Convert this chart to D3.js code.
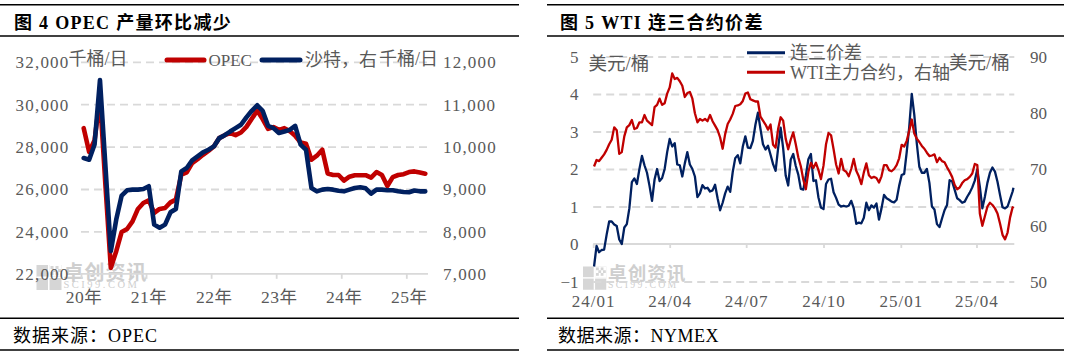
<!DOCTYPE html>
<html><head><meta charset="utf-8">
<script src="https://cdn.jsdelivr.net/npm/d3@7"></script>
<style>body{margin:0;background:#fff}svg{display:block}</style>
</head><body>
<svg id="c" width="1075" height="355"></svg>
<script>
// ---------- Figure 4 data (monthly, thousand b/d) ----------
const months = ["2020-01","2020-02","2020-03","2020-04","2020-05","2020-06","2020-07","2020-08","2020-09","2020-10","2020-11","2020-12",
"2021-01","2021-02","2021-03","2021-04","2021-05","2021-06","2021-07","2021-08","2021-09","2021-10","2021-11","2021-12",
"2022-01","2022-02","2022-03","2022-04","2022-05","2022-06","2022-07","2022-08","2022-09","2022-10","2022-11","2022-12",
"2023-01","2023-02","2023-03","2023-04","2023-05","2023-06","2023-07","2023-08","2023-09","2023-10","2023-11","2023-12",
"2024-01","2024-02","2024-03","2024-04","2024-05","2024-06","2024-07","2024-08","2024-09","2024-10","2024-11","2024-12",
"2025-01","2025-02","2025-03","2025-04"];
const opec = [28870,27750,28300,30300,26200,22280,23065,23975,24115,24475,25060,25340,
25465,24870,25060,25105,25370,25500,26675,26785,27220,27410,27615,27800,
28005,28400,28540,28635,28540,28665,28930,29310,29700,29295,28840,28920,
28790,28870,28730,28510,28195,28130,27380,27570,27850,26730,26660,26660,
26400,26580,26650,26650,26650,26540,26800,26660,26140,26560,26660,26700,
26800,26830,26780,26720];
const saudi = [9730,9690,10050,11570,9550,7535,8280,8845,8970,8985,8985,9000,
9065,8160,8085,8160,8450,8530,9415,9495,9675,9770,9865,9925,
10005,10200,10270,10355,10435,10515,10690,10845,10975,10845,10490,10435,
10320,10355,10395,10490,10045,9925,9025,8945,8985,9000,8985,8960,
8945,8985,9025,9040,9015,8890,8985,8985,8970,8970,8945,8930,
8925,8965,8945,8945];
const yearTickMonths = ["2020-01","2021-01","2022-01","2023-01","2024-01","2025-01"];
const yearLabels = ["20年","21年","22年","23年","24年","25年"];
const opecTicks = [22000,24000,26000,28000,30000,32000];
const saudiTicks = [7000,8000,9000,10000,11000,12000];

// ---------- Figure 5 data ----------
const wtiDates = ["2024-01-02","2024-01-05","2024-01-08","2024-01-11","2024-01-14","2024-01-17","2024-01-20","2024-01-23","2024-01-26","2024-01-29",
"2024-02-01","2024-02-04","2024-02-07","2024-02-10","2024-02-13","2024-02-16","2024-02-19","2024-02-22","2024-02-25","2024-02-28",
"2024-03-02","2024-03-05","2024-03-08","2024-03-11","2024-03-14","2024-03-17","2024-03-20","2024-03-23","2024-03-26","2024-03-29",
"2024-04-01","2024-04-04","2024-04-07","2024-04-10","2024-04-13","2024-04-16","2024-04-19","2024-04-22","2024-04-25","2024-04-28",
"2024-05-01","2024-05-04","2024-05-07","2024-05-10","2024-05-13","2024-05-16","2024-05-19","2024-05-22","2024-05-25","2024-05-28","2024-05-31",
"2024-06-03","2024-06-06","2024-06-09","2024-06-12","2024-06-15","2024-06-18","2024-06-21","2024-06-24","2024-06-27","2024-06-30",
"2024-07-03","2024-07-06","2024-07-09","2024-07-12","2024-07-15","2024-07-18","2024-07-21","2024-07-24","2024-07-27","2024-07-30",
"2024-08-02","2024-08-05","2024-08-08","2024-08-11","2024-08-14","2024-08-17","2024-08-20","2024-08-23","2024-08-26","2024-08-29",
"2024-09-01","2024-09-04","2024-09-07","2024-09-10","2024-09-13","2024-09-16","2024-09-19","2024-09-22","2024-09-25","2024-09-28",
"2024-10-01","2024-10-04","2024-10-07","2024-10-10","2024-10-13","2024-10-16","2024-10-19","2024-10-22","2024-10-25","2024-10-28","2024-10-31",
"2024-11-03","2024-11-06","2024-11-09","2024-11-12","2024-11-15","2024-11-18","2024-11-21","2024-11-24","2024-11-27","2024-11-30",
"2024-12-03","2024-12-06","2024-12-09","2024-12-12","2024-12-15","2024-12-18","2024-12-21","2024-12-24","2024-12-27","2024-12-30",
"2025-01-02","2025-01-05","2025-01-08","2025-01-11","2025-01-14","2025-01-17","2025-01-20","2025-01-23","2025-01-26","2025-01-29",
"2025-02-01","2025-02-04","2025-02-07","2025-02-10","2025-02-13","2025-02-16","2025-02-19","2025-02-22","2025-02-25","2025-02-28",
"2025-03-03","2025-03-06","2025-03-09","2025-03-12","2025-03-15","2025-03-18","2025-03-21","2025-03-24","2025-03-27","2025-03-30",
"2025-04-02","2025-04-05","2025-04-08","2025-04-11","2025-04-14","2025-04-17","2025-04-20","2025-04-23","2025-04-26","2025-04-29",
"2025-05-02","2025-05-05","2025-05-08","2025-05-11","2025-05-14","2025-05-15"];
const spread = [-0.60,-0.05,-0.22,-0.16,-0.15,0.25,0.60,0.60,0.52,0.48,
0.12,0.00,0.44,0.53,0.95,1.65,1.75,1.60,2.00,2.35,
2.10,1.90,1.55,1.15,1.72,2.00,1.68,1.76,2.00,2.45,
2.80,2.60,2.69,2.12,2.10,1.80,2.15,2.45,2.12,2.00,
1.80,1.25,1.35,1.57,1.48,1.50,1.40,1.43,1.58,1.22,0.90,
1.10,1.35,1.53,1.39,1.92,2.29,2.37,2.15,2.60,2.87,
2.57,2.56,2.75,3.18,3.50,3.07,2.66,2.52,2.62,2.38,
2.13,1.95,2.55,3.10,2.55,1.83,1.56,2.25,2.40,2.08,
1.85,1.47,1.45,1.82,2.26,2.40,1.68,1.70,1.24,0.97,
0.93,1.60,1.72,1.74,1.38,1.23,1.05,1.00,1.02,1.00,1.02,
1.15,0.95,0.54,0.57,0.55,0.70,1.10,0.90,1.03,0.97,
1.08,0.65,0.95,1.31,1.22,1.18,1.13,1.11,1.18,1.55,
1.84,1.87,2.45,3.12,4.00,3.45,2.68,2.06,1.90,1.90,
2.00,1.63,1.00,0.92,0.53,0.45,0.68,0.90,1.04,1.70,
1.67,1.45,1.22,1.17,1.10,1.13,1.26,1.37,1.51,1.69,
1.99,1.53,0.95,1.26,1.63,1.90,2.04,1.93,1.66,1.31,
0.98,0.95,1.00,1.20,1.40,1.50];
const wti = [70.45,71.6,71.4,72.0,72.6,73.4,74.4,75.2,77.4,76.9,
72.7,73.0,75.8,77.4,77.8,78.7,77.1,77.3,78.3,78.3,
79.6,78.6,78.2,77.8,81.0,81.4,82.5,81.4,81.7,83.4,
84.5,87.0,86.0,86.2,85.6,84.8,82.8,83.5,83.7,82.5,
79.9,78.3,78.9,78.6,78.9,78.5,79.6,78.5,77.7,76.9,75.6,
73.6,76.2,78.0,78.8,79.8,81.2,81.3,81.5,82.1,83.4,
83.6,82.4,82.2,82.0,82.0,79.3,78.6,77.9,77.0,77.9,
74.3,73.8,77.1,79.2,78.6,75.4,73.5,75.2,76.5,74.4,
72.1,70.5,68.1,66.4,69.5,71.1,70.2,71.1,69.8,68.2,
70.6,74.4,76.4,76.0,73.5,70.8,69.2,71.8,69.8,69.5,68.7,
70.0,71.8,69.7,68.7,67.3,69.4,71.0,68.9,68.4,68.6,
68.4,67.6,68.7,70.7,70.7,69.8,69.6,70.0,70.7,71.9,
74.3,74.0,75.0,76.8,78.8,76.3,75.4,74.8,74.1,73.6,
72.9,72.3,72.4,72.6,71.2,72.0,71.4,71.2,70.3,69.5,
68.6,67.2,66.4,66.7,67.5,68.0,68.2,68.6,69.2,70.9,
70.7,62.1,59.9,61.6,63.3,64.0,63.6,63.0,62.1,60.3,
58.3,57.5,58.7,61.4,63.2,63.0];
const monthTicks = ["2024-01-01","2024-04-01","2024-07-01","2024-10-01","2025-01-01","2025-04-01"];
const monthLabels = ["24/01","24/04","24/07","24/10","25/01","25/04"];
const spreadTicks = [-1,0,1,2,3,4,5];
const wtiTicks = [50,60,70,80,90];

// ---------- drawing ----------
const svg = d3.select("#c");
const FONT = "'Liberation Serif','Noto Sans CJK SC',serif";
const GRID = "#d9d9d9", TXT = "#595959", RED = "#c00000", BLUE = "#002060";
const parse = d3.timeParse("%Y-%m-%d");

function rule(x1, x2, y) {
  svg.append("line").attr("x1", x1).attr("x2", x2).attr("y1", y).attr("y2", y)
    .attr("stroke", "#000").attr("stroke-width", 1.6);
}
function text(x, y, s, size, opts = {}) {
  return svg.append("text").attr("x", x).attr("y", y).attr("dy", "0.35em")
    .attr("font-family", FONT).attr("font-size", size)
    .attr("fill", opts.fill || TXT).attr("font-weight", opts.bold ? "bold" : "normal")
    .attr("letter-spacing", opts.ls || 0).attr("text-anchor", opts.anchor || "start").text(s);
}
function styleAxis(g, size, ls) {
  g.select(".domain").remove();
  g.selectAll("text").attr("font-family", FONT).attr("font-size", size)
    .attr("fill", TXT).attr("letter-spacing", ls || 0);
}
function watermark(x, y, s) {
  const w = svg.append("g").attr("transform", `translate(${x},${y}) scale(${s})`);
  const c = "#d6d6d6";
  w.append("rect").attr("x", 0).attr("y", 0).attr("width", 25).attr("height", 25).attr("fill", c);
  w.append("rect").attr("x", 11.5).attr("y", 0).attr("width", 1.5).attr("height", 25).attr("fill", "#fff");
  w.append("rect").attr("x", 0).attr("y", 11.5).attr("width", 25).attr("height", 1.5).attr("fill", "#fff");
  w.append("rect").attr("x", 13).attr("y", 0).attr("width", 12).attr("height", 11.5).attr("fill", "#fff");
  [[14,1],[19,1],[16.5,4],[21.5,4],[14,7],[19,7]].forEach(p =>
    w.append("rect").attr("x", p[0]).attr("y", p[1]).attr("width", 3).attr("height", 3).attr("fill", c));
  w.append("text").attr("x", 27).attr("y", 8).attr("dy", "0.35em").attr("font-family", FONT)
    .attr("font-size", 20).attr("font-weight", "bold").attr("fill", "#cfcfcf").attr("letter-spacing", 1).text("卓创资讯");
  w.append("text").attr("x", 27).attr("y", 19).attr("dy", "0.35em").attr("font-family", FONT)
    .attr("font-size", 10.5).attr("fill", "#cfcfcf").attr("letter-spacing", 2.5).text("SCI99.COM");
}

// ===== Left panel: Figure 4 =====
rule(0, 519, 4.7); rule(0, 519, 36); rule(0, 519, 318.3); rule(0, 519, 350);
text(14, 22.5, "图 4 OPEC 产量环比减少", 18, { bold: true, fill: "#000", ls: 1.3 });
text(13, 335.5, "数据来源：OPEC", 18, { fill: "#000", ls: 1 });

const xA = d3.scaleLinear().domain([0, months.length]).range([81, 428]);
const yA1 = d3.scaleLinear().domain([22000, 32000]).range([273.8, 61.8]);
const yA2 = d3.scaleLinear().domain([7000, 12000]).range([273.8, 61.8]);

watermark(36.5, 265, 1);

// gridlines
svg.append("g").attr("transform", "translate(81,0)")
  .call(d3.axisLeft(yA1).tickValues(opecTicks.slice(1)).tickSize(-(428 - 81)).tickFormat(""))
  .call(g => { g.select(".domain").remove();
    g.selectAll("line").attr("stroke", GRID).attr("stroke-width", 1.8).attr("stroke-dasharray", "8,5"); });
// x axis
const yearIdx = yearTickMonths.map(m => months.indexOf(m));
svg.append("g").attr("transform", `translate(0,${yA1(22000)})`)
  .call(d3.axisBottom(xA).tickValues(yearIdx).tickSize(5).tickFormat((d, i) => yearLabels[i]))
  .call(g => { g.select(".domain").attr("stroke", GRID).attr("stroke-width", 1.8);
    g.selectAll("line").attr("stroke", GRID).attr("stroke-width", 1.8);
    g.selectAll("text").attr("x", 2.5).attr("y", 23).attr("dy", "0.35em"); styleAxis(g, 17.5, 0.5);
    g.insert("line", ":first-child").attr("x1", 81).attr("x2", 428).attr("stroke", GRID).attr("stroke-width", 1.8); });
// y axes labels
svg.append("g").attr("transform", "translate(69.5,0)")
  .call(d3.axisLeft(yA1).tickValues(opecTicks).tickSize(0).tickPadding(0).tickFormat(d3.format(",")))
  .call(g => { styleAxis(g, 17, 1.2); g.selectAll("text").attr("dy", "0.35em"); });
svg.append("g").attr("transform", "translate(443,0)")
  .call(d3.axisRight(yA2).tickValues(saudiTicks).tickSize(0).tickPadding(0).tickFormat(d3.format(",")))
  .call(g => { styleAxis(g, 17, 1.2); g.selectAll("text").attr("dy", "0.35em"); });

// lines
const lineA1 = d3.line().x((d, i) => xA(i + 0.5)).y(d => yA1(d));
const lineA2 = d3.line().x((d, i) => xA(i + 0.5)).y(d => yA2(d));
svg.append("path").datum(opec).attr("d", lineA1).attr("fill", "none").attr("stroke", RED)
  .attr("stroke-width", 4.6).attr("stroke-linejoin", "round").attr("stroke-linecap", "round");
svg.append("path").datum(saudi).attr("d", lineA2).attr("fill", "none").attr("stroke", BLUE)
  .attr("stroke-width", 4.6).attr("stroke-linejoin", "round").attr("stroke-linecap", "round");

// legend & units
text(68.5, 59, "千桶/日", 18);
svg.append("line").attr("x1", 167).attr("x2", 204).attr("y1", 60).attr("y2", 60)
  .attr("stroke", RED).attr("stroke-width", 5).attr("stroke-linecap", "round");
text(208.5, 60, "OPEC", 17);
svg.append("line").attr("x1", 262).attr("x2", 300).attr("y1", 60).attr("y2", 60)
  .attr("stroke", BLUE).attr("stroke-width", 5).attr("stroke-linecap", "round");
text(305, 60, "沙特，右", 18);
text(379, 59, "千桶/日", 18);

// ===== Right panel: Figure 5 =====
rule(547, 1064, 4.7); rule(547, 1064, 36); rule(547, 1064, 318.3); rule(547, 1064, 350);
text(560, 22.5, "图 5 WTI 连三合约价差", 18, { bold: true, fill: "#000", ls: 1.3 });
text(558, 335.5, "数据来源：NYMEX", 18, { fill: "#000", ls: 0.5 });

const xB = d3.scaleTime().domain([parse("2024-01-01"), parse("2025-05-16")]).range([593.2, 1014.3]);
const yB1 = d3.scaleLinear().domain([-1, 5]).range([281.5, 56.5]);
const yB2 = d3.scaleLinear().domain([50, 90]).range([281.5, 56.5]);

watermark(583, 266.5, 0.93);

svg.append("g").attr("transform", "translate(593.2,0)")
  .call(d3.axisLeft(yB1).tickValues(spreadTicks.filter(v => v !== 0)).tickSize(-(1014.3 - 593.2)).tickFormat(""))
  .call(g => { g.select(".domain").remove();
    g.selectAll("line").attr("stroke", GRID).attr("stroke-width", 1.8).attr("stroke-dasharray", "8,5"); });
svg.append("g").attr("transform", `translate(0,${yB1(0)})`)
  .call(d3.axisBottom(xB).tickValues(monthTicks.map(parse)).tickSize(4).tickFormat((d, i) => monthLabels[i]))
  .call(g => { g.select(".domain").attr("stroke", GRID).attr("stroke-width", 1.8);
    g.selectAll("line").attr("stroke", GRID).attr("stroke-width", 1.8);
    g.selectAll("text").attr("y", yB1(-1) - yB1(0) + 20).attr("dy", "0.35em"); styleAxis(g, 17, 1);
    g.insert("line", ":first-child").attr("x1", 593.2).attr("x2", 1014.3).attr("stroke", GRID).attr("stroke-width", 1.8); });
svg.append("g").attr("transform", "translate(578.5,0)")
  .call(d3.axisLeft(yB1).tickValues(spreadTicks).tickSize(0).tickPadding(0).tickFormat(d3.format("d")))
  .call(g => { styleAxis(g, 17, 0); g.selectAll("text").attr("dy", "0.35em"); });
svg.append("g").attr("transform", "translate(1030,0)")
  .call(d3.axisRight(yB2).tickValues(wtiTicks).tickSize(0).tickPadding(0).tickFormat(d3.format("d")))
  .call(g => { styleAxis(g, 17, 0); g.selectAll("text").attr("dy", "0.35em"); });

const lineB1 = d3.line().x((d, i) => xB(parse(wtiDates[i]))).y(d => yB1(d));
const lineB2 = d3.line().x((d, i) => xB(parse(wtiDates[i]))).y(d => yB2(d));
svg.append("path").datum(spread).attr("d", lineB1).attr("fill", "none").attr("stroke", BLUE)
  .attr("stroke-width", 2.3).attr("stroke-linejoin", "round");
svg.append("path").datum(wti).attr("d", lineB2).attr("fill", "none").attr("stroke", RED)
  .attr("stroke-width", 2.3).attr("stroke-linejoin", "round");

text(588.5, 63.5, "美元/桶", 18.5);
text(949, 63, "美元/桶", 18.5);
svg.append("line").attr("x1", 747).attr("x2", 785).attr("y1", 52.7).attr("y2", 52.7)
  .attr("stroke", BLUE).attr("stroke-width", 3);
text(790, 53, "连三价差", 18);
svg.append("line").attr("x1", 747).attr("x2", 785).attr("y1", 72.3).attr("y2", 72.3)
  .attr("stroke", RED).attr("stroke-width", 3);
text(790, 72.5, "WTI主力合约，右轴", 18);
</script>
</body></html>
